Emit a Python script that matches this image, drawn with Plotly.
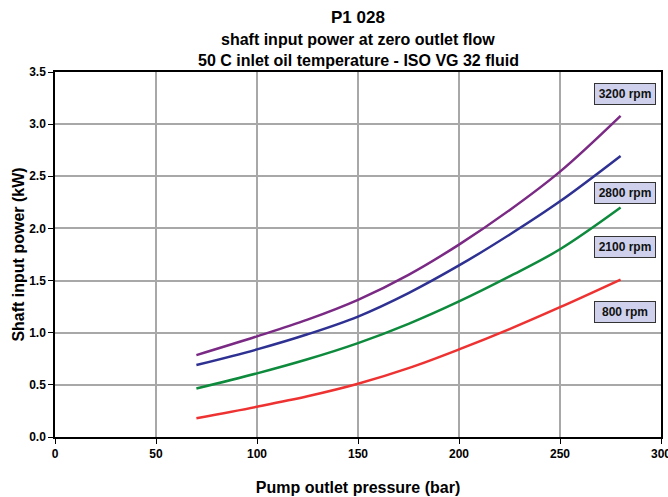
import plotly.graph_objects as go

pressure = [70, 100, 125, 150, 175, 200, 225, 250, 280]
power_3200 = [0.785, 0.965, 1.125, 1.315, 1.555, 1.845, 2.175, 2.545, 3.08]
power_2800 = [0.69, 0.84, 0.985, 1.155, 1.38, 1.645, 1.94, 2.26, 2.695]
power_2100 = [0.465, 0.61, 0.745, 0.90, 1.085, 1.30, 1.54, 1.80, 2.20]
power_800 = [0.18, 0.29, 0.39, 0.51, 0.66, 0.84, 1.035, 1.245, 1.51]

series_names = ["3200 rpm", "2800 rpm", "2100 rpm", "800 rpm"]
series_values = [power_3200, power_2800, power_2100, power_800]
series_colors = ["#7a2a84", "#2e3192", "#0e8a3c", "#ee3232"]
label_y = [3.29, 2.34, 1.82, 1.20]
label_x = 282

x_ticks = [0, 50, 100, 150, 200, 250, 300]
y_ticks = [0.0, 0.5, 1.0, 1.5, 2.0, 2.5, 3.0, 3.5]

FONT = "Liberation Sans, Arial, sans-serif"
NARROW = "Liberation Sans Narrow, Arial Narrow, Liberation Sans, sans-serif"

fig = go.Figure()
for name, vals, col in zip(series_names, series_values, series_colors):
    fig.add_trace(go.Scatter(x=pressure, y=vals, mode="lines", name=name,
                             line=dict(color=col, width=2.5, shape="spline", smoothing=1.0),
                             showlegend=False))

for name, ly in zip(series_names, label_y):
    fig.add_annotation(x=label_x, y=ly, xref="x", yref="y", text="<b>" + name + "</b>",
                       showarrow=False, font=dict(family=NARROW, size=12, color="#111"),
                       bgcolor="#cfd1ec", bordercolor="#333", borderwidth=1,
                       width=58, height=18, align="center")

fig.add_annotation(x=0.5, y=1.0, xref="paper", yref="paper", yshift=55, text="<b>P1 028</b>",
                   showarrow=False, font=dict(family=FONT, size=17, color="#000"), yanchor="middle")
fig.add_annotation(x=0.5, y=1.0, xref="paper", yref="paper", yshift=33,
                   text="<b>shaft input power at zero outlet flow</b>",
                   showarrow=False, font=dict(family=FONT, size=16, color="#000"), yanchor="middle")
fig.add_annotation(x=0.5, y=1.0, xref="paper", yref="paper", yshift=12,
                   text="<b>50 C inlet oil temperature - ISO VG 32 fluid</b>",
                   showarrow=False, font=dict(family=FONT, size=16, color="#000"), yanchor="middle")

axis_common = dict(showline=True, linecolor="#000", linewidth=1.5, mirror=True,
                   showgrid=True, gridcolor="#a8a8a8", gridwidth=1.5,
                   ticks="outside", ticklen=5, tickcolor="#000", zeroline=False,
                   automargin=False, ticklabeloverflow="allow",
                   tickfont=dict(family=NARROW, size=12, color="#000"))

fig.update_xaxes(range=[0, 300], tickvals=x_ticks, ticktext=[f"<b>{v}</b>" for v in x_ticks],
                 title=dict(text="<b>Pump outlet pressure (bar)</b>",
                            font=dict(family=FONT, size=16, color="#000"), standoff=22),
                 **axis_common)
fig.update_yaxes(range=[0, 3.5], tickvals=y_ticks, ticktext=[f"<b>{v:.1f}</b>" for v in y_ticks],
                 title=dict(text="<b>Shaft input power (kW)</b>",
                            font=dict(family=FONT, size=16, color="#000"), standoff=1),
                 **axis_common)

fig.update_layout(width=668, height=497, margin=dict(l=55, r=7, t=72, b=60),
                  paper_bgcolor="white", plot_bgcolor="white",
                  font=dict(family=FONT))

fig.write_html("out.html", config={"displayModeBar": False},
               post_script="document.body.style.margin='0px';")
